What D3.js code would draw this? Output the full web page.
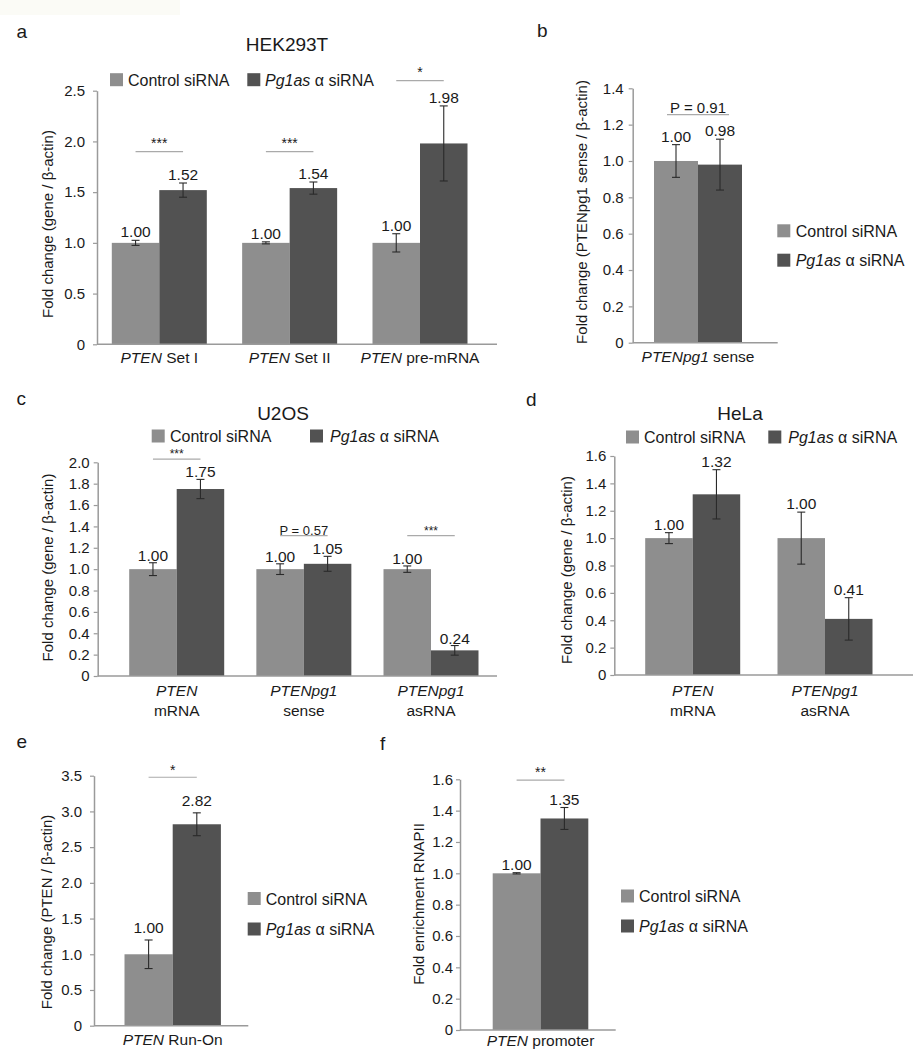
<!DOCTYPE html>
<html><head><meta charset="utf-8">
<script src="https://cdn.jsdelivr.net/npm/d3@7"></script>
<style>
body{margin:0;background:#fff;}
svg{display:block;}
</style></head><body>
<svg id="chart" width="914" height="1050"></svg>
<script>
const FONT = '"Liberation Sans", Arial, Helvetica, sans-serif';
const seriesNames = ["Control siRNA", "Pg1as α siRNA"];
const seriesColors = ["#8e8e8e", "#525252"];

// ---- Panel a: HEK293T
const aTitle = "HEK293T";
const aCategories = ["PTEN Set I", "PTEN Set II", "PTEN pre-mRNA"];
const aControl = [1.00, 1.00, 1.00];
const aControlErr = [0.025, 0.01, 0.09];
const aKnockdown = [1.52, 1.54, 1.98];
const aKnockdownErr = [0.07, 0.06, 0.37];
const aSignif = ["***", "***", "*"];
const aSignifLevel = [1.9, 1.9, 2.6];
const aTicks = [0, 0.5, 1.0, 1.5, 2.0, 2.5];
const aYLabel = "Fold change (gene / β-actin)";

// ---- Panel b
const bCategories = ["PTENpg1 sense"];
const bControl = [1.00];
const bControlErr = [0.09];
const bKnockdown = [0.98];
const bKnockdownErr = [0.14];
const bSignif = ["P = 0.91"];
const bSignifLevel = [1.255];
const bTicks = [0, 0.2, 0.4, 0.6, 0.8, 1.0, 1.2, 1.4];
const bYLabel = "Fold change (PTENpg1 sense / β-actin)";

// ---- Panel c: U2OS
const cTitle = "U2OS";
const cCategories = ["PTEN\nmRNA", "PTENpg1\nsense", "PTENpg1\nasRNA"];
const cControl = [1.00, 1.00, 1.00];
const cControlErr = [0.06, 0.05, 0.03];
const cKnockdown = [1.75, 1.05, 0.24];
const cKnockdownErr = [0.09, 0.07, 0.045];
const cSignif = ["***", "P = 0.57", "***"];
const cSignifLevel = [2.03, 1.313, 1.313];
const cTicks = [0, 0.2, 0.4, 0.6, 0.8, 1.0, 1.2, 1.4, 1.6, 1.8, 2.0];
const cYLabel = "Fold change (gene / β-actin)";

// ---- Panel d: HeLa
const dTitle = "HeLa";
const dCategories = ["PTEN\nmRNA", "PTENpg1\nasRNA"];
const dControl = [1.00, 1.00];
const dControlErr = [0.04, 0.19];
const dKnockdown = [1.32, 0.41];
const dKnockdownErr = [0.18, 0.155];
const dSignif = [];
const dSignifLevel = [];
const dTicks = [0, 0.2, 0.4, 0.6, 0.8, 1.0, 1.2, 1.4, 1.6];
const dYLabel = "Fold change (gene / β-actin)";

// ---- Panel e
const eCategories = ["PTEN Run-On"];
const eControl = [1.00];
const eControlErr = [0.2];
const eKnockdown = [2.82];
const eKnockdownErr = [0.16];
const eSignif = ["*"];
const eSignifLevel = [3.478];
const eTicks = [0, 0.5, 1.0, 1.5, 2.0, 2.5, 3.0, 3.5];
const eYLabel = "Fold change (PTEN / β-actin)";

// ---- Panel f
const fCategories = ["PTEN promoter"];
const fControl = [1.00];
const fControlErr = [0.004];
const fKnockdown = [1.35];
const fKnockdownErr = [0.07];
const fSignif = ["**"];
const fSignifLevel = [1.595];
const fTicks = [0, 0.2, 0.4, 0.6, 0.8, 1.0, 1.2, 1.4, 1.6];
const fYLabel = "Fold enrichment RNAPII";

const svg = d3.select("#chart").attr("font-family", FONT);
svg.append("rect").attr("x", 0).attr("y", 0).attr("width", 180).attr("height", 15).attr("fill", "#fbfbf6");

const AXIS = "#9a9a9a";
const INK = "#1a1a1a";

function addSegments(sel, segs) {
  segs.forEach(s => sel.append("tspan").attr("font-style", s.i ? "italic" : null).text(s.t));
}
function catSegments(line, first) {
  if (!first) return [{t: line}];
  const sp = line.indexOf(" ");
  if (sp < 0) return [{t: line, i: true}];
  return [{t: line.slice(0, sp), i: true}, {t: line.slice(sp)}];
}
function legendSegments(name) {
  return name.startsWith("Pg1as") ? [{t: "Pg1as", i: true}, {t: name.slice(5)}] : [{t: name}];
}

function drawPanel(p) {
  const g = svg.append("g");
  const n = p.cats.length;
  const pad = 1 - p.bandW / p.step;
  const x = d3.scaleBand().domain(p.cats)
    .range([p.c0 - p.step / 2, p.c0 - p.step / 2 + n * p.step])
    .paddingInner(pad).paddingOuter(pad / 2);
  const xs = d3.scaleBand().domain([0, 1]).range([0, x.bandwidth()]);
  const y = d3.scaleLinear().domain([0, d3.max(p.ticks)]).range([p.y0, p.y1]);

  // panel letter
  g.append("text").attr("x", p.letter[0]).attr("y", p.letter[1]).attr("font-size", 19).attr("fill", INK).text(p.name);

  // title
  if (p.title) g.append("text").attr("x", p.titlePos[0]).attr("y", p.titlePos[1]).attr("text-anchor", "middle")
    .attr("font-size", 19).attr("fill", INK).text(p.title);

  // y axis
  const ax = g.append("g").attr("transform", `translate(${p.ax0},0)`)
    .call(d3.axisLeft(y).tickValues(p.ticks).tickSize(4).tickSizeOuter(0).tickPadding(p.tickPad)
      .tickFormat(v => v === 0 ? "0" : d3.format(".1f")(v)));
  ax.attr("font-family", FONT).attr("font-size", 15);
  ax.select(".domain").attr("stroke", AXIS).attr("stroke-width", 1.5);
  ax.selectAll(".tick line").attr("stroke", AXIS).attr("stroke-width", 1.2);
  ax.selectAll(".tick text").attr("fill", INK);

  // y label
  g.append("text").attr("transform", `translate(${p.yLab[0]},${p.yLab[1]}) rotate(-90)`)
    .attr("text-anchor", "middle").attr("dominant-baseline", "central")
    .attr("font-size", 15).attr("fill", INK).text(p.yLabel);

  // bars
  const series = [
    {vals: p.ctrl, errs: p.ctrlErr, k: 0},
    {vals: p.kd, errs: p.kdErr, k: 1}
  ];
  series.forEach(s => {
    const bars = g.append("g");
    bars.selectAll("rect").data(p.cats).join("rect")
      .attr("x", (c) => x(c) + xs(s.k))
      .attr("y", (c, i) => y(s.vals[i]))
      .attr("width", xs.bandwidth())
      .attr("height", (c, i) => y(0) - y(s.vals[i]))
      .attr("fill", seriesColors[s.k]);
  });

  // x axis line
  g.append("line").attr("x1", p.ax0).attr("x2", p.ax1).attr("y1", p.y0).attr("y2", p.y0)
    .attr("stroke", AXIS).attr("stroke-width", 1.5);

  // error bars + value labels
  series.forEach(s => {
    p.cats.forEach((c, i) => {
      const cx = x(c) + xs(s.k) + xs.bandwidth() / 2;
      const v = s.vals[i], e = s.errs[i];
      const yt = y(v + e), yb = y(v - e);
      g.append("line").attr("x1", cx).attr("x2", cx).attr("y1", yt).attr("y2", yb).attr("stroke", "#2a2a2a").attr("stroke-width", 1.1);
      [yt, yb].forEach(yy => g.append("line").attr("x1", cx - 4).attr("x2", cx + 4).attr("y1", yy).attr("y2", yy)
        .attr("stroke", "#2a2a2a").attr("stroke-width", 1.1));
      g.append("text").attr("x", cx).attr("y", yt - p.labGap).attr("text-anchor", "middle")
        .attr("font-size", 15.5).attr("fill", INK).text(d3.format(".2f")(v));
    });
  });

  // significance
  p.sig.forEach((t, i) => {
    const c = p.cats[i];
    const xl = x(c) + xs(0) + xs.bandwidth() / 2 - (p.sigExt || 0);
    const xr = x(c) + xs(1) + xs.bandwidth() / 2 + (p.sigExt || 0);
    const yy = y(p.sigLevel[i]);
    g.append("line").attr("x1", xl).attr("x2", xr).attr("y1", yy).attr("y2", yy).attr("stroke", "#aaaaaa").attr("stroke-width", 1.2);
    const isP = t.startsWith("P");
    g.append("text").attr("x", (xl + xr) / 2).attr("y", yy - (isP ? p.pGap : p.sigGap)).attr("text-anchor", "middle")
      .attr("font-size", isP ? p.pSize : p.starSize).attr("fill", INK).text(t);
  });

  // category labels
  p.cats.forEach(c => {
    c.split("\n").forEach((line, k) => {
      const t = g.append("text").attr("x", x(c) + x.bandwidth() / 2).attr("y", p.xlabY + k * 20)
        .attr("text-anchor", "middle").attr("font-size", 15.5).attr("fill", INK);
      addSegments(t, catSegments(line, k === 0));
    });
  });

  // legend
  seriesNames.forEach((name, k) => {
    const it = p.legend[k];
    g.append("rect").attr("x", it.sx).attr("y", it.cy - 6.5).attr("width", 13).attr("height", 13).attr("fill", seriesColors[k]);
    const t = g.append("text").attr("x", it.tx).attr("y", it.cy + 6).attr("font-size", 16).attr("fill", INK);
    addSegments(t, legendSegments(name));
  });
}

drawPanel({name: "a", title: aTitle, titlePos: [287, 50.7], cats: aCategories, ctrl: aControl, ctrlErr: aControlErr,
  kd: aKnockdown, kdErr: aKnockdownErr, sig: aSignif, sigLevel: aSignifLevel, ticks: aTicks, yLabel: aYLabel,
  ax0: 97, ax1: 497, y0: 344.3, y1: 90.7, c0: 159.3, step: 130.35, bandW: 95, tickPad: 8, labGap: 3,
  sigGap: 4, starSize: 14, letter: [16.5, 37.5], yLab: [47, 224], xlabY: 363,
  legend: [{sx: 110, tx: 128, cy: 79.7}, {sx: 247.3, tx: 265, cy: 79.7}]});

drawPanel({name: "b", cats: bCategories, ctrl: bControl, ctrlErr: bControlErr,
  kd: bKnockdown, kdErr: bKnockdownErr, sig: bSignif, sigLevel: bSignifLevel, ticks: bTicks, yLabel: bYLabel,
  ax0: 632.7, ax1: 777.7, y0: 342.7, y1: 88.3, c0: 698, step: 100, bandW: 88, tickPad: 5, labGap: 3,
  sigExt: 9, pGap: 1.5, pSize: 15, letter: [537, 37.3], yLab: [581, 212], xlabY: 362,
  legend: [{sx: 777.3, tx: 795.7, cy: 230.8}, {sx: 777.3, tx: 795.7, cy: 260.2}]});

drawPanel({name: "c", title: cTitle, titlePos: [283, 420], cats: cCategories, ctrl: cControl, ctrlErr: cControlErr,
  kd: cKnockdown, kdErr: cKnockdownErr, sig: cSignif, sigLevel: cSignifLevel, ticks: cTicks, yLabel: cYLabel,
  ax0: 97.7, ax1: 497, y0: 676, y1: 462.3, c0: 176.7, step: 127.15, bandW: 95, tickPad: 4, labGap: 2,
  sigGap: 1, starSize: 12, pGap: 1, pSize: 13, letter: [16.5, 405], yLab: [47, 567.5], xlabY: 696,
  legend: [{sx: 151.7, tx: 170, cy: 436}, {sx: 310, tx: 330, cy: 436}]});

drawPanel({name: "d", title: dTitle, titlePos: [740, 420], cats: dCategories, ctrl: dControl, ctrlErr: dControlErr,
  kd: dKnockdown, kdErr: dKnockdownErr, sig: dSignif, sigLevel: dSignifLevel, ticks: dTicks, yLabel: dYLabel,
  ax0: 614.3, ax1: 913, y0: 675, y1: 456, c0: 692.7, step: 132.3, bandW: 95, tickPad: 4, labGap: 3,
  letter: [526, 406], yLab: [566.7, 570], xlabY: 696,
  legend: [{sx: 626, tx: 644, cy: 437}, {sx: 768.3, tx: 788.3, cy: 437}]});

drawPanel({name: "e", cats: eCategories, ctrl: eControl, ctrlErr: eControlErr,
  kd: eKnockdown, kdErr: eKnockdownErr, sig: eSignif, sigLevel: eSignifLevel, ticks: eTicks, yLabel: eYLabel,
  ax0: 94, ax1: 248.3, y0: 1025.7, y1: 775.7, c0: 172.7, step: 110, bandW: 96.4, tickPad: 8, labGap: 6.5,
  sigGap: 2, starSize: 14, letter: [16.5, 748.3], yLab: [46.7, 912], xlabY: 1045,
  legend: [{sx: 247.7, tx: 265.7, cy: 898.5}, {sx: 247.7, tx: 265.7, cy: 929}]});

drawPanel({name: "f", cats: fCategories, ctrl: fControl, ctrlErr: fControlErr,
  kd: fKnockdown, kdErr: fKnockdownErr, sig: fSignif, sigLevel: fSignifLevel, ticks: fTicks, yLabel: fYLabel,
  ax0: 460, ax1: 615.7, y0: 1030, y1: 779.3, c0: 540.5, step: 110, bandW: 95.6, tickPad: 3, labGap: 3,
  sigGap: 3, starSize: 14, letter: [380, 750], yLab: [418.3, 904], xlabY: 1046,
  legend: [{sx: 621, tx: 639, cy: 896}, {sx: 621, tx: 639, cy: 926}]});
</script>
</body></html>
